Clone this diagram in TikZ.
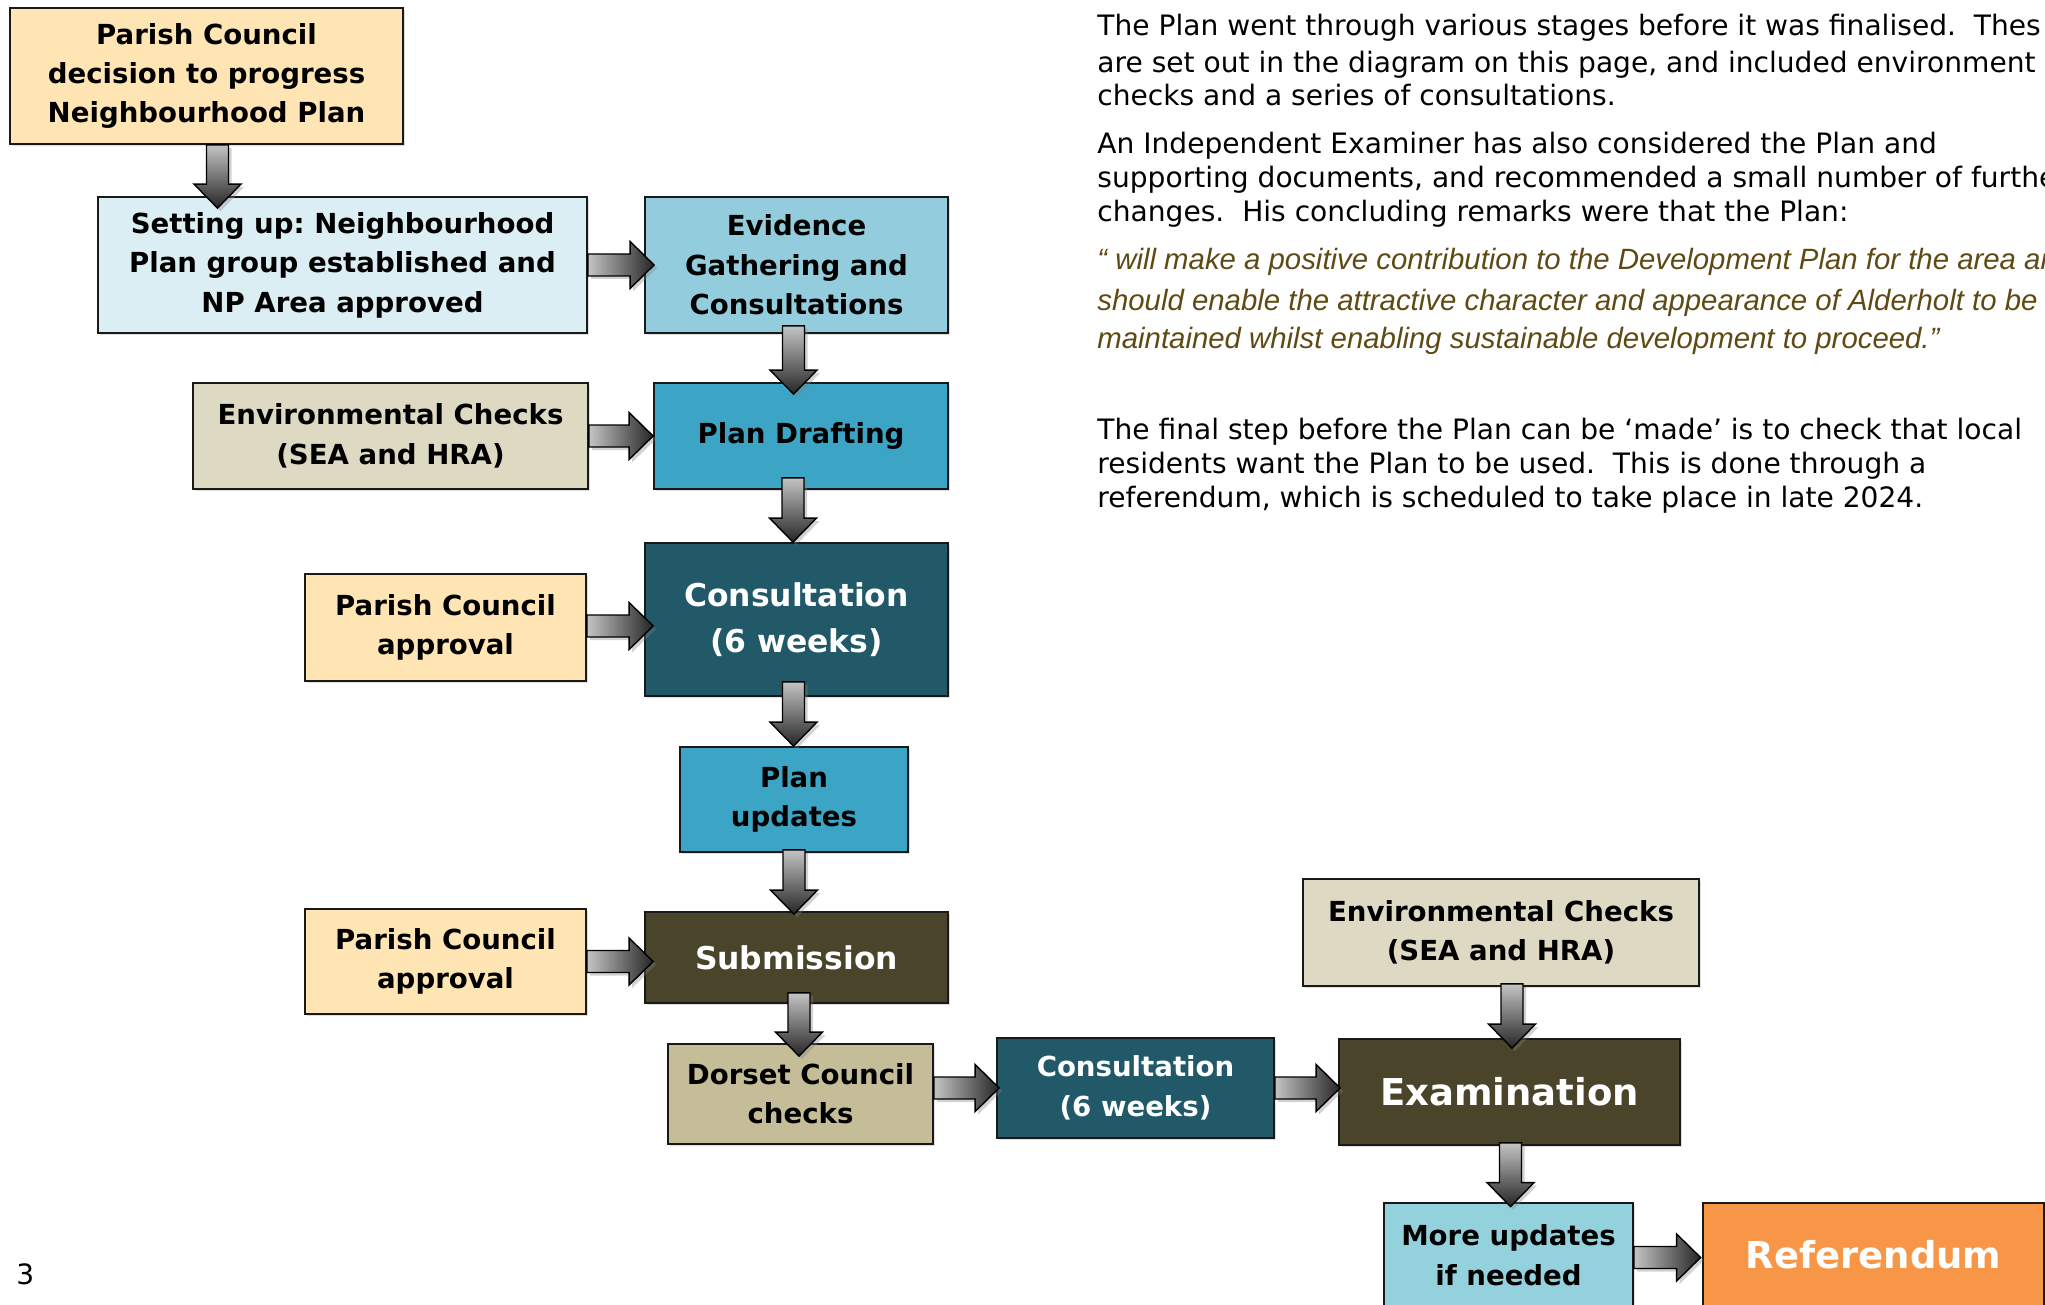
\documentclass[tikz,border=0pt]{standalone}
\usepackage{fontspec}
\setmainfont{DejaVu Sans}
\newfontfamily\quotefont{Liberation Sans}
\usetikzlibrary{calc,shadows}
\frenchspacing
\definecolor{peach}{HTML}{FFE5B4}
\definecolor{paleblue}{HTML}{DBEEF4}
\definecolor{midblue}{HTML}{93CDDD}
\definecolor{stone}{HTML}{DDD9C3}
\definecolor{teal}{HTML}{3CA4C4}
\definecolor{darkteal}{HTML}{215968}
\definecolor{olive}{HTML}{4A452A}
\definecolor{khaki}{HTML}{C4BD97}
\definecolor{aqua}{HTML}{93D2DD}
\definecolor{orangebox}{HTML}{F79646}
\definecolor{quotecol}{HTML}{5E4A12}
\definecolor{agl}{HTML}{C4C4C4}
\definecolor{agd}{HTML}{262626}
\newcommand\boxfont{\fontsize{13.8}{19.7}\bfseries\selectfont}
\newcommand\bigboxfont{\fontsize{15.7}{23}\bfseries\selectfont}
\newcommand\hugeboxfont{\fontsize{18.5}{24}\bfseries\selectfont}
\tikzset{
  box/.style={draw=black!90, line width=0.9pt, rectangle, inner sep=0pt, align=center,
    font=\boxfont, text=black,
    drop shadow={opacity=0.25, shadow xshift=1pt, shadow yshift=-1pt}},
  wbox/.style={box, text=white},
  arrowline/.style={draw=black, line width=0.7pt,
    drop shadow={opacity=0.35, shadow xshift=1.5pt, shadow yshift=-1.5pt}},
  bodytext/.style={anchor=base west, inner sep=0pt, font=\fontsize{14.05}{17}\selectfont},
  quotetext/.style={anchor=base west, inner sep=0pt, text=quotecol,
    font=\quotefont\itshape\fontsize{14.68}{18}\selectfont}
}
\newcommand\harrow[2]{\path[arrowline, left color=agl, right color=agd] let \p1=#1, \p2=#2 in
  (\x1,\y1+5.5pt) -- (\x2-12pt,\y1+5.5pt) -- (\x2-12pt,\y1+11.75pt) -- (\x2,\y1)
  -- (\x2-12pt,\y1-11.75pt) -- (\x2-12pt,\y1-5.5pt) -- (\x1,\y1-5.5pt) -- cycle;}
\newcommand\varrow[2]{\path[arrowline, top color=agl, bottom color=agd] let \p1=#1, \p2=#2 in
  (\x1-5.5pt,\y1) -- (\x1-5.5pt,\y2+12pt) -- (\x1-11.75pt,\y2+12pt) -- (\x1,\y2)
  -- (\x1+11.75pt,\y2+12pt) -- (\x1+5.5pt,\y2+12pt) -- (\x1+5.5pt,\y1) -- cycle;}
\begin{document}
\begin{tikzpicture}[x=0.5pt, y=-0.5pt]
\useasboundingbox (0,0) rectangle (2045,1305);
\clip (0,0) rectangle (2045,1305);
\fill[white] (0,0) rectangle (2045,1305);

% boxes
\node[box, fill=peach, minimum width=196.5pt, minimum height=68pt] (A) at (206.5,76) {Parish Council\\decision to progress\\Neighbourhood Plan};
\node[box, fill=paleblue, minimum width=244.5pt, minimum height=68pt] (B) at (342.5,265) {Setting up: Neighbourhood\\Plan group established and\\NP Area approved};
\node[box, fill=midblue, minimum width=151.5pt, minimum height=68pt] (C) at (796.5,265) {Evidence\\Gathering and\\Consultations};
\node[box, fill=stone, minimum width=197.5pt, minimum height=53pt] (D) at (390.5,436) {Environmental Checks\\(SEA and HRA)};
\node[box, fill=teal, minimum width=147pt, minimum height=53pt] (E) at (801,436) {Plan Drafting};
\node[box, fill=peach, minimum width=140.5pt, minimum height=53.5pt] (F) at (445.5,627.5) {Parish Council\\approval};
\node[wbox, fill=darkteal, font=\bigboxfont, minimum width=151.5pt, minimum height=76.5pt] (G) at (796.5,619.5) {Consultation\\(6 weeks)};
\node[box, fill=teal, minimum width=114pt, minimum height=52.5pt] (H) at (794,799.5) {Plan\\updates};
\node[box, fill=peach, minimum width=140.5pt, minimum height=52.5pt] (I) at (445.5,961.5) {Parish Council\\approval};
\node[wbox, fill=olive, font=\bigboxfont, minimum width=151.5pt, minimum height=45.5pt] (J) at (796.5,957.5) {Submission};
\node[box, fill=khaki, minimum width=132.5pt, minimum height=50pt] (K) at (800.5,1094) {Dorset Council\\checks};
\node[wbox, fill=darkteal, minimum width=138.5pt, minimum height=50pt] (L) at (1135.5,1088) {Consultation\\(6 weeks)};
\node[wbox, fill=olive, font=\hugeboxfont, minimum width=170.5pt, minimum height=53pt] (M) at (1509.5,1092) {Examination};
\node[box, fill=stone, minimum width=198pt, minimum height=53.5pt] (N) at (1501,932.5) {Environmental Checks\\(SEA and HRA)};
\node[box, fill=aqua, minimum width=124.5pt, minimum height=52pt] (O) at (1508.5,1255) {More updates\\if needed};
\node[wbox, fill=orangebox, font=\hugeboxfont, minimum width=170.5pt, minimum height=52pt] (P) at (1873.5,1255) {Referendum};

% block arrows
\varrow{([xshift=5.5pt]A.south)}{([yshift=-6pt]B.north)}
\harrow{(B.east)}{([xshift=5pt]C.west)}
\varrow{([xshift=-1.5pt,yshift=4pt]C.south)}{([yshift=-6pt]E.north)}
\harrow{(D.east)}{(E.west)}
\varrow{([xshift=-4pt,yshift=6pt]E.south)}{(G.north)}
\harrow{([yshift=0.75pt]F.east)}{([xshift=4.5pt]G.west)}
\varrow{([xshift=-1.5pt,yshift=7.5pt]G.south)}{(H.north)}
\varrow{([yshift=1.5pt]H.south)}{([yshift=-1.5pt]J.north)}
\harrow{(I.east)}{([xshift=4.5pt]J.west)}
\varrow{([xshift=1.25pt,yshift=5.5pt]J.south)}{([yshift=-6.5pt]K.north)}
\harrow{([yshift=3pt]K.east)}{([xshift=1.5pt]L.west)}
\harrow{(L.east)}{([xshift=1pt]M.west)}
\varrow{([xshift=5.5pt,yshift=1.5pt]N.south)}{([yshift=-5pt]M.north)}
\varrow{([xshift=0.5pt,yshift=1.5pt]M.south)}{([yshift=-2.25pt]O.north)}
\harrow{([yshift=-1.25pt]O.east)}{([xshift=-0.75pt]P.west)}

% text column
\node[bodytext] (t1) at (1097,36) {The Plan went through various stages before it was finalised.~ Thes};
\node[bodytext] (t2) at (1097,73) {are set out in the diagram on this page, and included environment};
\node[bodytext] (t3) at (1097,106) {checks and a series of consultations.};
\node[bodytext] (t4) at (1097,154) {An Independent Examiner has also considered the Plan and};
\node[bodytext] (t5) at (1097,188) {supporting documents, and recommended a small number of furthe};
\node[bodytext] (t6) at (1097,222) {changes.~ His concluding remarks were that the Plan:};
\node[quotetext] (q1) at (1097,270) {“ will make a positive contribution to the Development Plan for the area ar};
\node[quotetext] (q2) at (1097,310) {should enable the attractive character and appearance of Alderholt to be};
\node[quotetext] (q3) at (1097,349) {maintained whilst enabling sustainable development to proceed.”};
\node[bodytext] (t7) at (1097,439) {The final step before the Plan can be ‘made’ is to check that local};
\node[bodytext] (t8) at (1097,473) {residents want the Plan to be used.~ This is done through a};
\node[bodytext] (t9) at (1097,507) {referendum, which is scheduled to take place in late 2024.};

\node[anchor=base west, inner sep=0pt, font=\fontsize{14}{17}\selectfont] (pg) at (16,1284) {3};
\end{tikzpicture}
\end{document}
